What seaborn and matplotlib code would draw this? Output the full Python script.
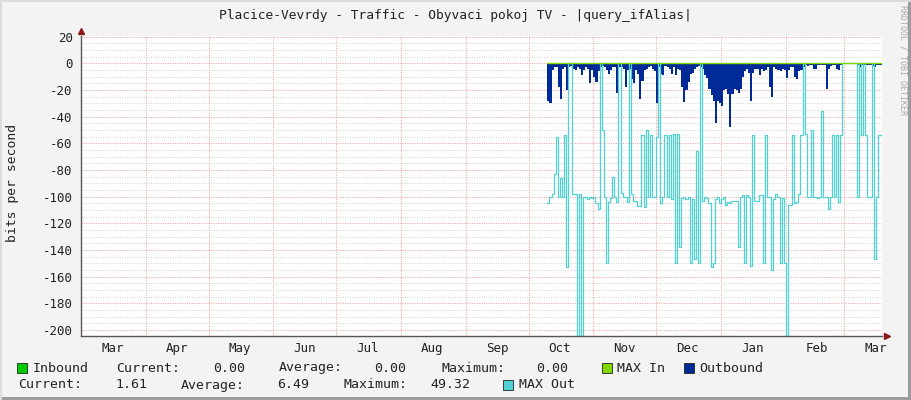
import numpy as np
import pandas as pd
import matplotlib
matplotlib.use("Agg")
import matplotlib.pyplot as plt
import matplotlib.dates as mdates
from matplotlib.ticker import MultipleLocator, NullFormatter
from matplotlib.patches import Rectangle
import seaborn as sns

# chart data (daily samples, bits per second, outbound drawn negative)
title = "Placice-Vevrdy - Traffic - Obyvaci pokoj TV - |query_ifAlias|"
first_day = "2018-10-10"
x_from, x_to = "2018-03-01", "2019-03-19"

max_out = [
    -105, -100, -98, -83, -55, -100, -86, -100, -54, -153,   # Oct 10
    0, 0, -98, -98, -210, -98, -210, -100, -100, -102,       # Oct 20
    -100, -101, -100, -105, -109, 0, -50, -100, -150, -104,  # Oct 30
    -101, -85, -100, -104, 0, -97, -100, -100, -104, 0,      # Nov 9
    -98, -103, -103, -107, -107, -54, -108, -50, -100, -54,  # Nov 19
    -100, -100, -55, 0, -105, -100, -54, -100, -54, -102,    # Nov 29
    -53, -150, -53, -138, -101, -100, -102, -100, -150, -102,  # Dec 9
    -147, -66, -150, 0, -103, -100, -101, -105, -153, -150,  # Dec 19
    -102, -100, -105, -102, -100, -106, -104, -105, -103, -103,  # Dec 29
    -103, -138, -100, -99, -150, -99, -100, -152, -54, -103,  # Jan 8
    -103, -99, -99, -150, -54, -100, -100, -155, -102, -98,  # Jan 18
    -100, -150, -101, -150, -210, -106, -106, -54, -105, -104,  # Jan 28
    -98, -54, 0, -53, -100, -100, -50, -100, -100, -101,     # Feb 7
    -100, -36, -100, -100, -109, -100, -54, -100, -54, -104,  # Feb 17
    -54, 0, 0, 0, 0, 0, 0, 0, -100, 0,                        # Feb 27
    -54, 0, -54, -100, -100, 0, -147, -100, -54, -54,         # Mar 9
    -54,
]

outbound = [
    -28, -30, -5, -3, -3, -18, -27, -4, -3, -20,
    -3, -2, -4, -5, -3, -4, -9, -5, -3, -4,
    -15, -5, -10, -14, -6, -3, -2, -3, -5, -8,
    -5, -3, -3, -22, -3, -3, -4, -18, -5, -4,
    -12, -15, -5, -8, -27, -13, -5, -4, -3, -2,
    -4, -6, -30, -3, -8, -9, -2, -3, -4, -8,
    -3, -9, -4, -5, -18, -29, -20, -14, -8, -7,
    -4, -3, -2, -3, -4, -9, -11, -19, -24, -28,
    -45, -28, -30, -32, -20, -19, -23, -48, -23, -19,
    -20, -22, -19, -10, -6, -4, -7, -28, -7, -4,
    -4, -9, -4, -6, -5, -3, -18, -25, -3, -4,
    -5, -6, -4, -5, -11, -5, -3, -3, -10, -12,
    -6, -5, -3, -1, -2, -1, -1, -4, -4, -1,
    -1, -1, -1, -19, -4, -2, -1, -1, -4, -5,
    -1, 0, 0, 0, 0, 0, 0, 0, -1, -3,
    -1, -1, -1, -1, -1, -2, -3, -1, -1, -1,
    -1,
]

inbound = [0.0] * len(max_out)
max_in = [0.0] * len(max_out)

y_ticks = [20, 0, -20, -40, -60, -80, -100, -120, -140, -160, -180, -200]
y_tick_labels = ["20", "0", "-20", "-40", "-60", "-80", "-100", "-120",
                 "-140", "-160", "-180", "-200"]

in_stats = ["0.00", "0.00", "0.00"]
out_stats = ["1.61", "6.49", "49.32"]

c_in = "#00cc00"
c_max_in = "#80d800"
c_out = "#002a97"
c_max_out = "#50d2d2"
c_bg = "#f3f3f3"
c_major = "#f2a4a4"
c_minor = "#d6d6d6"
c_axis = "#555555"
c_arrow = "#8b1a1a"

df = pd.DataFrame({
    "date": pd.date_range(first_day, periods=len(max_out), freq="D"),
    "inbound": inbound,
    "max_in": max_in,
    "outbound": outbound,
    "max_out": max_out,
})

sns.set_theme(style="white")
plt.rcParams["font.family"] = ["DejaVu Sans Mono", "DejaVu Sans"]

W, H = 911, 400
fig = plt.figure(figsize=(W / 100, H / 100), dpi=100, facecolor=c_bg)
ax = fig.add_axes([81 / W, (H - 336) / H, 801 / W, 299.7 / H])
ax.set_facecolor("white")

ax.fill_between(df["date"], df["inbound"], 0, step="post", color=c_in, lw=0)
ax.fill_between(df["date"], df["outbound"], 0, step="post", color=c_out, lw=0)
sns.lineplot(data=df, x="date", y="max_out", drawstyle="steps-post",
             color=c_max_out, lw=0.9, ax=ax)
sns.lineplot(data=df, x="date", y="max_in", drawstyle="steps-post",
             color=c_max_in, lw=1.0, ax=ax)

ax.set_xlim(pd.Timestamp(x_from), pd.Timestamp(x_to))
ax.set_ylim(-204.5, 20.3)

# y axis
ax.set_yticks(y_ticks)
ax.set_yticklabels(y_tick_labels)
ax.yaxis.set_minor_locator(MultipleLocator(5))
ax.tick_params(axis="y", which="major", length=3, width=0.8, color=c_axis,
               direction="out", pad=3, labelsize=9, labelcolor="#222222")
ax.tick_params(axis="y", which="minor", length=2, width=0.6, color=c_axis,
               direction="out")

# x axis: ticks on month starts, labels in the middle of the month
ax.xaxis.set_major_locator(mdates.MonthLocator())
ax.xaxis.set_major_formatter(NullFormatter())
ax.xaxis.set_minor_locator(mdates.MonthLocator(bymonthday=16))
ax.xaxis.set_minor_formatter(mdates.DateFormatter("%b"))
ax.tick_params(axis="x", which="major", length=3, width=0.8, color=c_axis,
               direction="out")
ax.tick_params(axis="x", which="minor", length=0, pad=4, labelsize=9,
               labelcolor="#222222")

ax.set_axisbelow(True)
ax.grid(which="major", axis="both", color=c_major, lw=0.75, linestyle=(0, (1, 1.3)))
ax.grid(which="minor", axis="y", color=c_minor, lw=0.75, linestyle=(0, (1, 1.3)))
ax.grid(which="minor", axis="x", visible=False)

ax.set_xlabel("")
ax.set_ylabel("bits per second", fontsize=9.4, color="#222222")
ax.yaxis.set_label_coords(-62 / 801, 0.51)

for side in ["top", "right"]:
    ax.spines[side].set_visible(False)
for side in ["left", "bottom"]:
    ax.spines[side].set_color(c_axis)
    ax.spines[side].set_linewidth(1.0)

# axis arrows
ax.plot([0], [1.0 + 5 / 300], marker="^", ms=5, color=c_arrow,
        transform=ax.transAxes, clip_on=False)
ax.plot([1.0 + 5 / 801], [0], marker=">", ms=5, color=c_arrow,
        transform=ax.transAxes, clip_on=False)

fig.text(455 / W, 1 - 15 / H, title, ha="center", va="center",
         fontsize=9.3, color="#222222")
fig.text(903 / W, 1 - 5 / H, "RRDTOOL / TOBI OETIKER", rotation=270,
         ha="center", va="top", fontsize=6, color="#aaaaaa")

# legend rows
def px_text(x, y, s):
    fig.text(x / W, 1 - y / H, s, ha="left", va="center", fontsize=9.5,
             color="#222222")

def px_box(x, y, c):
    fig.patches.append(Rectangle((x / W, 1 - (y + 5) / H), 10 / W, 10 / H,
                                 transform=fig.transFigure, facecolor=c,
                                 edgecolor="#222222", lw=0.6))

row1, row2 = 368, 385
px_box(17, row1, c_in)
px_text(33, row1, "Inbound")
px_text(116, row1, "Current:")
px_text(213, row1, in_stats[0])
px_text(279, row1, "Average:")
px_text(374, row1, in_stats[1])
px_text(441, row1, "Maximum:")
px_text(536, row1, in_stats[2])
px_box(602, row1, c_max_in)
px_text(617, row1, "MAX In")
px_box(684, row1, c_out)
px_text(699, row1, "Outbound")

px_text(18, row2, "Current:")
px_text(115, row2, out_stats[0])
px_text(181, row2, "Average:")
px_text(277, row2, out_stats[1])
px_text(343, row2, "Maximum:")
px_text(430, row2, out_stats[2])
px_box(503, row2, c_max_out)
px_text(519, row2, "MAX Out")

# frame edges
fig.patches.append(Rectangle((0, 0), 1, 3 / H, transform=fig.transFigure,
                             facecolor="#9c9c9c", lw=0))
fig.patches.append(Rectangle((1 - 3 / W, 0), 3 / W, 1, transform=fig.transFigure,
                             facecolor="#9c9c9c", lw=0))
fig.patches.append(Rectangle((0, 0), 2 / W, 1, transform=fig.transFigure,
                             facecolor="#dcdcdc", lw=0))
fig.patches.append(Rectangle((0, 1 - 2 / H), 1, 2 / H, transform=fig.transFigure,
                             facecolor="#dcdcdc", lw=0))

fig.savefig("out.png", dpi=100, facecolor=c_bg)
